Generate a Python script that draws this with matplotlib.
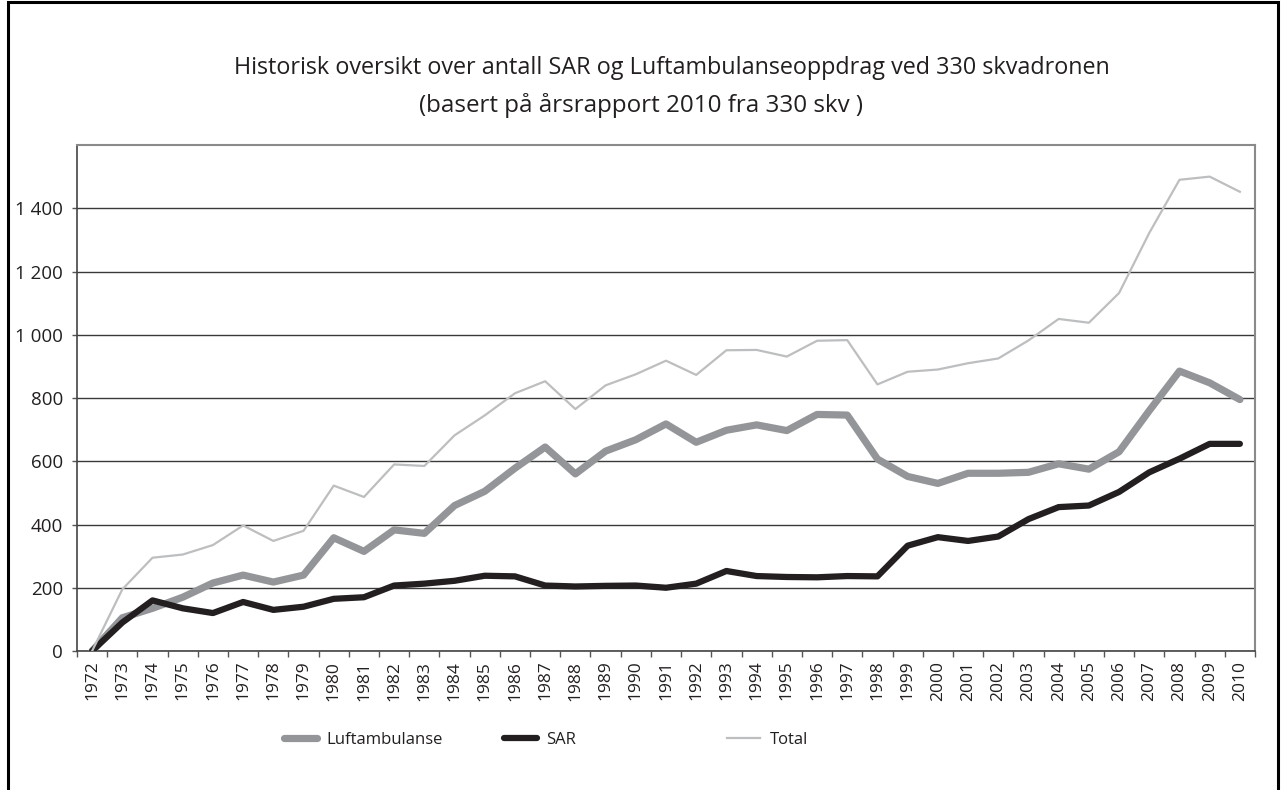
import matplotlib
matplotlib.use("Agg")
import matplotlib.pyplot as plt
from matplotlib.patches import Rectangle
from matplotlib.ticker import FuncFormatter, FixedLocator

plt.rcParams['font.family'] = ['Open Sans', 'DejaVu Sans']

years = list(range(1972, 2011))

luftambulanse = [0, 105, 135, 170, 215, 240, 218, 240, 358, 315,
                 383, 372, 460, 505, 578, 645, 560, 632, 668, 718,
                 660, 698, 715, 697, 748, 746, 607, 552, 530, 562,
                 562, 565, 592, 575, 630, 760, 885, 848, 795]

sar = [0, 90, 160, 135, 120, 155, 130, 140, 165, 170,
       207, 213, 222, 238, 236, 207, 204, 206, 207, 200,
       213, 253, 237, 234, 233, 237, 236, 333, 360, 348,
       362, 417, 455, 460, 503, 565, 608, 655, 655]

total = [0, 195, 295, 305, 335, 397, 348, 380, 523, 487,
         590, 585, 682, 745, 815, 853, 765, 840, 875, 918,
         873, 951, 952, 931, 981, 983, 843, 883, 890, 910,
         925, 982, 1050, 1038, 1132, 1322, 1490, 1500, 1452]

W, H = 1282, 790
fig = plt.figure(figsize=(W / 100, H / 100), dpi=100)
ax = fig.add_axes([77 / W, (H - 651) / H, (1255 - 77) / W, (651 - 145) / H])

x = list(range(len(years)))
l1, = ax.plot(x, luftambulanse, color='#939598', lw=5.2, solid_capstyle='round',
              solid_joinstyle='round', label='Luftambulanse', zorder=3)
l2, = ax.plot(x, sar, color='#231f20', lw=4.5, solid_capstyle='round',
              solid_joinstyle='round', label='SAR', zorder=4)
l3, = ax.plot(x, total, color='#bcbec0', lw=1.6, label='Total', zorder=5)

ax.set_xlim(-0.5, len(years) - 0.5)
ax.set_ylim(0, 1600)
ax.set_yticks(range(0, 1600, 200))
ax.yaxis.set_major_formatter(FuncFormatter(lambda v, p: f"{int(v):,}".replace(',', ' ')))
ax.grid(axis='y', color='#3a3a3a', lw=1.0, zorder=1)
ax.set_axisbelow(True)

ax.set_xticks(x)
ax.set_xticklabels([str(y) for y in years], rotation=90)
ax.xaxis.set_minor_locator(FixedLocator([i - 0.5 for i in range(len(years) + 1)]))
ax.tick_params(axis='x', which='major', length=0, pad=7, labelsize=12.5, labelcolor='#231f20')
ax.tick_params(axis='x', which='minor', length=4, width=1, color='#555555')
ax.tick_params(axis='y', length=3.6, width=1, color='#555555', pad=6.4, labelsize=13.5,
               labelcolor='#231f20')

for s in ['left', 'bottom']:
    ax.spines[s].set_color('#444444')
    ax.spines[s].set_linewidth(1.2)
for s in ['top', 'right']:
    ax.spines[s].set_color('#8a8a8a')
    ax.spines[s].set_linewidth(1.5)

fig.text(672 / W, 1 - 68 / H, 'Historisk oversikt over antall SAR og Luftambulanseoppdrag ved 330 skvadronen',
         ha='center', va='center', fontsize=16.8, color='#231f20')
fig.text(641 / W, 1 - 106 / H, '(basert på årsrapport 2010 fra 330 skv )',
         ha='center', va='center', fontsize=17.4, color='#231f20')

for line, x0 in [(l1, 284), (l2, 504), (l3, 727)]:
    fig.legend(handles=[line], loc='center left', bbox_to_anchor=(x0 / W, 1 - 740 / H),
               frameon=False, fontsize=12, borderpad=0, borderaxespad=0,
               handlelength=2.0, handletextpad=0.55, labelcolor='#231f20')

fig.patches.append(Rectangle((8 / W, -0.02), (1278 - 8) / W, 1.02 - 2 / H,
                             transform=fig.transFigure, fill=False,
                             edgecolor='black', lw=2.2))

fig.savefig('out.png', dpi=100)
